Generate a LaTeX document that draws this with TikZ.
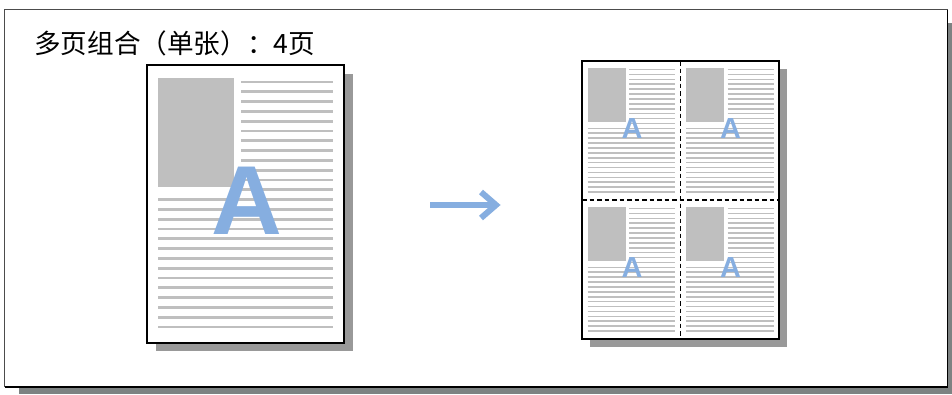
\documentclass[tikz,border=0pt]{standalone}
\usepackage{fontspec}
\setmainfont{Liberation Sans}
\newfontfamily\cjkfont{Noto Sans CJK SC}

\definecolor{azulA}{RGB}{134,174,224}
\definecolor{grisTexto}{RGB}{191,191,191}
\definecolor{grisSombra}{RGB}{153,153,153}
\definecolor{grisMarco}{RGB}{125,130,130}

%Contenido de una hoja: #1 desplazamiento, #2 escala, #3 grosor de linea, #4 tamano de la A, #5 nombre
\newcommand{\contenido}[5]{%
\begin{scope}[shift={#1},scale=#2]
\fill[grisTexto] (11,13) rectangle (87,122);
\foreach \k in {0,...,11}{
    \draw[grisTexto,line width=#3] (94,17+\k*9.8) -- (186,17+\k*9.8);
}
\foreach \k in {12,...,25}{
    \draw[grisTexto,line width=#3] (11,17+\k*9.8) -- (186,17+\k*9.8);
}
\node[text=azulA,inner sep=0pt,font=\fontsize{#4}{#4}\selectfont\bfseries] (#5) at (100,136) {A};
\end{scope}}

\begin{document}
\begin{tikzpicture}[x=1pt,y=-1pt]
\useasboundingbox (0,0) rectangle (952,394);

%Marco exterior
\fill[grisMarco] (19,23) rectangle (952,394);
\fill[white] (4.5,9.5) rectangle (947.5,387);
\draw[gray!60!black,line width=1.2pt] (4.5,387) -- (4.5,9.5) -- (947.5,9.5);
\draw[black,line width=1.2pt] (947.5,9.5) -- (947.5,387) -- (4.5,387);

%Titulo
\node[anchor=west,inner sep=0pt,font=\cjkfont\fontsize{26.6}{26.6}\selectfont] (titulo) at (34,43) {多页组合（单张）：4页};

%Hoja original
\fill[grisSombra] (156,74) rectangle (353,351);
\fill[white] (147,65) rectangle (344,343);
\contenido{(147,65)}{1}{2.8pt}{98}{letraA}
\draw[black,line width=2pt] (147,65) rectangle (344,343);

%Hoja combinada
\fill[grisSombra] (590,69) rectangle (787,347);
\fill[white] (582,61) rectangle (779,339);
\foreach \dx/\dy [count=\n] in {0/0,98.5/0,0/139,98.5/139}{
    \contenido{(582+\dx,61+\dy)}{0.5}{1.6pt}{29}{letraA\n}
}
\draw[black,line width=1.5pt,dash pattern=on 4.5pt off 3pt] (680.5,61) -- (680.5,339);
\draw[black,line width=1.5pt,dash pattern=on 4.5pt off 3pt] (582,200) -- (779,200);
\draw[black,line width=2pt] (582,61) rectangle (779,339);

%Flecha
\coordinate (flechaIni) at (430,205);
\coordinate (flechaFin) at (496,205);
\draw[azulA,line width=6pt] (flechaIni) -- (flechaFin);
\draw[azulA,line width=6pt,miter limit=10] (flechaFin) ++(-15,-13) -- (flechaFin) -- ++(-15,13);
\end{tikzpicture}
\end{document}
